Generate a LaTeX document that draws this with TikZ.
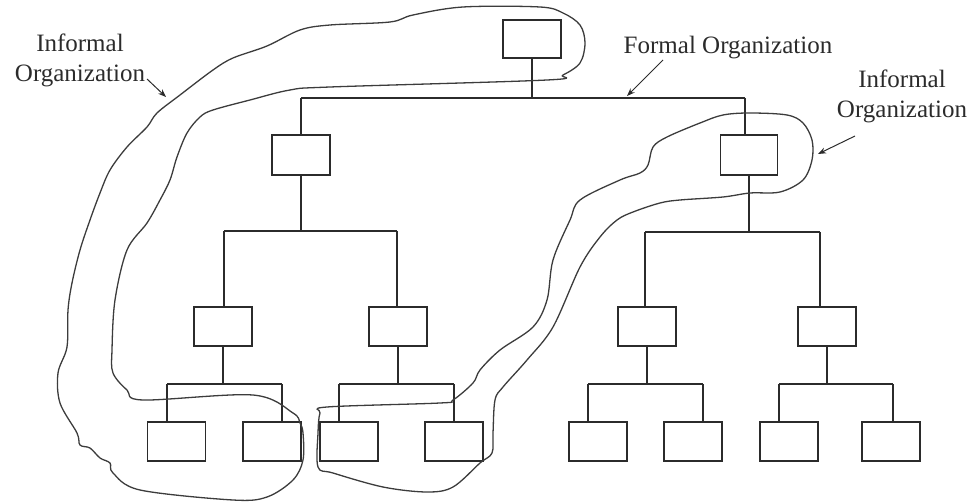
\documentclass[tikz,border=0pt]{standalone}
\usepackage{fontspec}
\setmainfont{Liberation Serif}
\usetikzlibrary{arrows.meta}
\definecolor{ink}{HTML}{2B2B2B}
\definecolor{blobink}{HTML}{3C3C3C}
\tikzset{
  orgbox/.style={draw=ink, line width=1.4pt, minimum width=58pt, minimum height=39pt, inner sep=0pt},
  link/.style={draw=ink, line width=1.4pt},
  blob/.style={draw=blobink, line width=1.3pt},
  lbl/.style={font=\fontsize{25}{30}\selectfont, align=center, inner sep=0pt, anchor=base, text=ink},
  pointer/.style={draw=ink, line width=1pt, -{Stealth[length=8pt,width=6pt]}}
}
\begin{document}
\begin{tikzpicture}[x=1pt,y=-1pt]
\useasboundingbox (0,0) rectangle (971,502);
% boxes
\node[orgbox, minimum height=38pt] (top) at (532,39) {};
\node[orgbox, minimum height=40pt] (l2a) at (301,155) {};
\node[orgbox, minimum height=40pt, minimum width=57pt] (l2b) at (749,155) {};
\node[orgbox] (l3a) at (223,326.5) {};
\node[orgbox] (l3b) at (398,326.5) {};
\node[orgbox] (l3c) at (647,326.5) {};
\node[orgbox] (l3d) at (827,326.5) {};
\node[orgbox] (l4a) at (176.5,441.5) {};
\node[orgbox] (l4b) at (272,441.5) {};
\node[orgbox] (l4c) at (349,441.5) {};
\node[orgbox] (l4d) at (454,441.5) {};
\node[orgbox] (l4e) at (598,441.5) {};
\node[orgbox] (l4f) at (693,441.5) {};
\node[orgbox] (l4g) at (789,441.5) {};
\node[orgbox] (l4h) at (891,441.5) {};
% junction coordinates
\coordinate (b1l) at (301,98);
\coordinate (b1r) at (745,98);
\coordinate (b2l) at (224,231);
\coordinate (b2r) at (397,231);
\coordinate (b3l) at (645,232);
\coordinate (b3r) at (820,232);
\coordinate (c1l) at (167,384);
\coordinate (c1r) at (282,384);
\coordinate (c2l) at (339,384);
\coordinate (c2r) at (454,384);
\coordinate (c3l) at (588,384);
\coordinate (c3r) at (703,384);
\coordinate (c4l) at (779,384);
\coordinate (c4r) at (893,384);
% connectors
\draw[link] (top.south) -- (top.south |- b1l);
\draw[link] (b1l) -- (b1r);
\draw[link] (b1l) -- (l2a.north);
\draw[link] (b1r) -- (b1r |- l2b.north);
\draw[link] (l2a.south) -- (l2a.south |- b2l);
\draw[link] (b2l) -- (b2r);
\draw[link] (b2l) -- (b2l |- l3a.north);
\draw[link] (b2r) -- (b2r |- l3b.north);
\draw[link] (l2b.south) -- (l2b.south |- b3l);
\draw[link] (b3l) -- (b3r);
\draw[link] (b3l) -- (b3l |- l3c.north);
\draw[link] (b3r) -- (b3r |- l3d.north);
\draw[link] (l3a.south) -- (l3a.south |- c1l);
\draw[link] (c1l) -- (c1r);
\draw[link] (c1l) -- (c1l |- l4a.north);
\draw[link] (c1r) -- (c1r |- l4b.north);
\draw[link] (l3b.south) -- (l3b.south |- c2l);
\draw[link] (c2l) -- (c2r);
\draw[link] (c2l) -- (c2l |- l4c.north);
\draw[link] (c2r) -- (c2r |- l4d.north);
\draw[link] (l3c.south) -- (l3c.south |- c3l);
\draw[link] (c3l) -- (c3r);
\draw[link] (c3l) -- (c3l |- l4e.north);
\draw[link] (c3r) -- (c3r |- l4f.north);
\draw[link] (l3d.south) -- (l3d.south |- c4l);
\draw[link] (c4l) -- (c4r);
\draw[link] (c4l) -- (c4l |- l4g.north);
\draw[link] (c4r) -- (c4r |- l4h.north);
% informal organization outlines
\draw[blob] plot[smooth cycle, tension=0.55] coordinates {
 (330,87) (547,80) (563,75) (580,63) (585,43) (580,25) (563,13) (540,7) (463,7) (413,15) (390,22) (330,25)
 (300,30) (267,46) (233,58) (213,70) (180,95) (157,113) (147,127) (127,147) (110,170) (100,193)
 (90,220) (80,250) (72,283) (68,310) (67,347) (58,373) (60,403) (77,433) (80,445) (90,448) (100,458)
 (110,463) (113,473) (140,490) (233,500) (267,497) (293,480) (303,460) (303,433) (300,423) (293,413)
 (253,395) (143,400) (127,390) (113,373) (112,350) (115,300) (127,250) (147,223) (160,200)
 (170,180) (177,157) (187,133) (200,117) (213,110) (250,100) (290,90)};
\draw[blob] plot[smooth cycle, tension=0.55] coordinates {
 (318,433) (320,413) (327,407) (440,403) (453,400) (473,383) (480,370) (500,350) (533,327) (547,300)
 (553,260) (570,220) (580,200) (620,180) (640,173) (648,165) (653,147) (667,137) (700,123) (723,115)
 (750,113) (787,115) (803,123) (812,140) (812,160) (803,180) (780,192) (750,193) (723,197) (680,200)
 (660,203) (633,212) (617,220) (600,237) (580,267) (553,327) (527,360) (503,387) (495,400) (493,433)
 (492,453) (480,463) (453,487) (427,492) (383,487) (333,473) (318,467)};
% labels
\node[lbl] (infL) at (80,82) {Informal\\Organization};
\node[lbl] (formal) at (728,54) {Formal Organization};
\node[lbl] (infR) at (902,118) {Informal\\Organization};
% pointers
\coordinate (p1s) at (147,79);
\coordinate (p1e) at (166,97);
\coordinate (p2s) at (663,60);
\coordinate (p2e) at (627,96);
\coordinate (p3s) at (855,136);
\coordinate (p3e) at (818,154);
\draw[pointer] (p1s) -- (p1e);
\draw[pointer] (p2s) -- (p2e);
\draw[pointer] (p3s) -- (p3e);
\end{tikzpicture}
\end{document}
